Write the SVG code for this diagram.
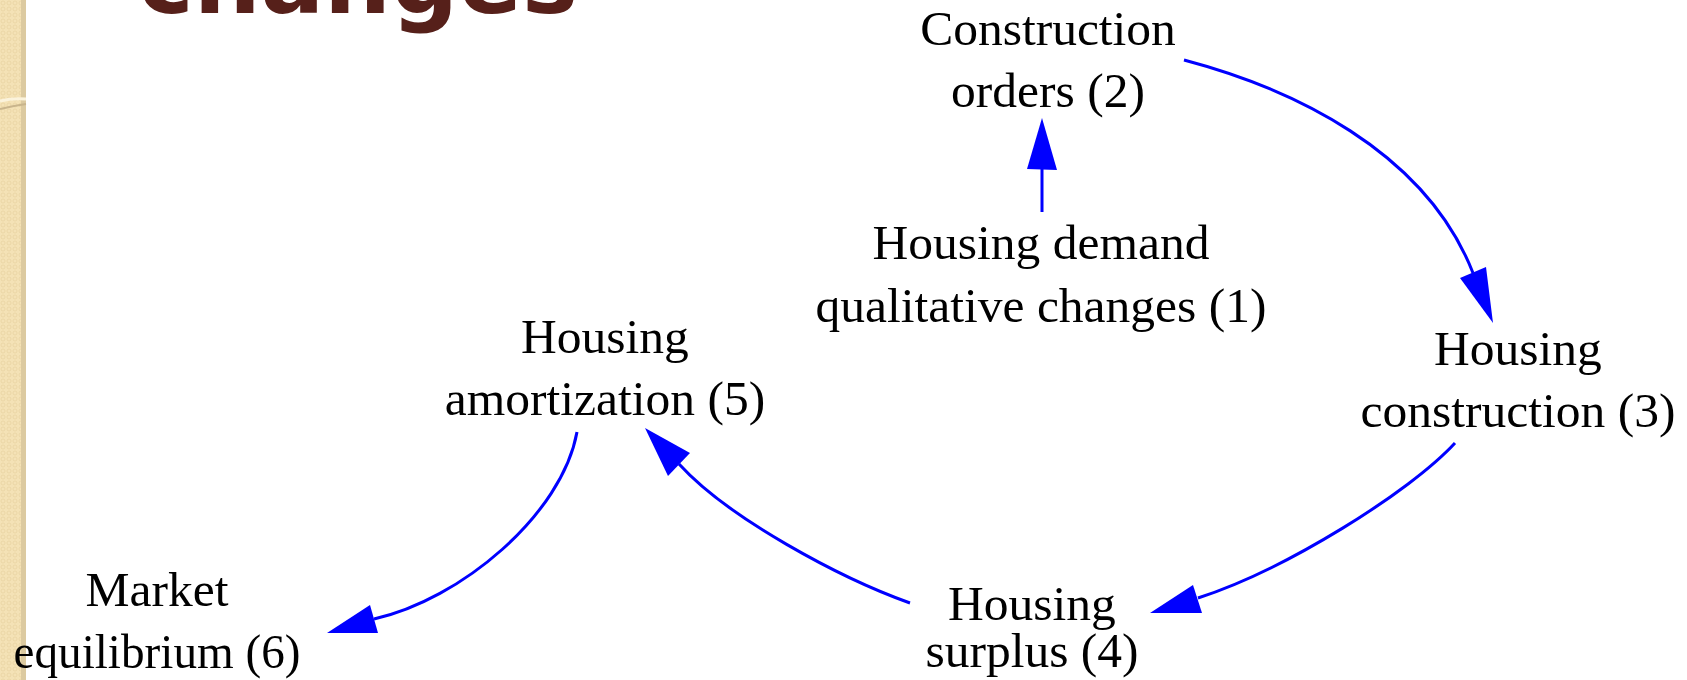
<svg xmlns="http://www.w3.org/2000/svg" width="1687" height="680" viewBox="0 0 1687 680">
  <style>
    .label { font-family: "Liberation Serif", "Times New Roman", serif; font-size: 49.5px; fill: #000; text-anchor: middle; }
    .title { font-family: "DejaVu Sans", "Liberation Sans", sans-serif; font-weight: bold; font-size: 94px; fill: #56201a; }
    .edge { fill: none; stroke: #0000ff; stroke-width: 3; }
    .head { fill: #0000ff; stroke: none; }
  </style>
  <defs>
    <pattern id="weave" width="6" height="6" patternUnits="userSpaceOnUse">
      <rect width="6" height="6" fill="#f4e2b6"/>
      <circle cx="3" cy="3" r="2" fill="none" stroke="#e9d3a2" stroke-width="0.8"/>
    </pattern>
  </defs>

  <!-- page background and textured side band -->
  <rect width="1687" height="680" fill="#ffffff"/>
  <g id="side-band">
    <rect x="0" y="0" width="22" height="680" fill="url(#weave)"/>
    <rect x="21" y="0" width="5" height="680" fill="#dccaa0"/>
    <path d="M0,101 Q12,98 26,99" fill="none" stroke="#fbf3dc" stroke-width="3"/>
    <path d="M0,109 Q12,106 26,104" fill="none" stroke="#c9b58c" stroke-width="2"/>
  </g>

  <!-- slide title, clipped by the top edge -->
  <text class="title" x="138" y="13">changes</text>

  <g id="n1">
    <text class="label" x="1041" y="259">Housing demand</text>
    <text class="label" x="1041" y="322">qualitative changes (1)</text>
  </g>
  <g id="n2">
    <text class="label" x="1048" y="45">Construction</text>
    <text class="label" x="1048" y="107">orders (2)</text>
  </g>
  <g id="n3">
    <text class="label" x="1518" y="365">Housing</text>
    <text class="label" x="1518" y="427">construction (3)</text>
  </g>
  <g id="n4">
    <text class="label" x="1032" y="620">Housing</text>
    <text class="label" x="1032" y="667">surplus (4)</text>
  </g>
  <g id="n5">
    <text class="label" x="605" y="353">Housing</text>
    <text class="label" x="605" y="415">amortization (5)</text>
  </g>
  <g id="n6">
    <text class="label" x="157" y="606">Market</text>
    <text class="label" x="157" y="668" textLength="287" lengthAdjust="spacingAndGlyphs">equilibrium (6)</text>
  </g>

  <g id="connectors">
    <!-- 1 -> 2 -->
    <path class="edge" d="M1042,212 L1042,168"/>
    <polygon class="head" points="1042,118 1057,170 1027,169"/>
    <!-- 2 -> 3 -->
    <path class="edge" d="M1184,60 C1290,88 1425,150 1473,273"/>
    <polygon class="head" points="1493,323 1460,278 1486,267"/>
    <!-- 3 -> 4 -->
    <path class="edge" d="M1455,443 C1410,492 1285,570 1198,598"/>
    <polygon class="head" points="1150,613 1193,585 1202,613"/>
    <!-- 4 -> 5 -->
    <path class="edge" d="M910,603 C840,578 728,518 679,464"/>
    <polygon class="head" points="645,428 690,453 668,476"/>
    <!-- 5 -> 6 -->
    <path class="edge" d="M577,432 C562,515 460,600 374,619"/>
    <polygon class="head" points="327,633 370,605 378,633"/>
  </g>
</svg>
